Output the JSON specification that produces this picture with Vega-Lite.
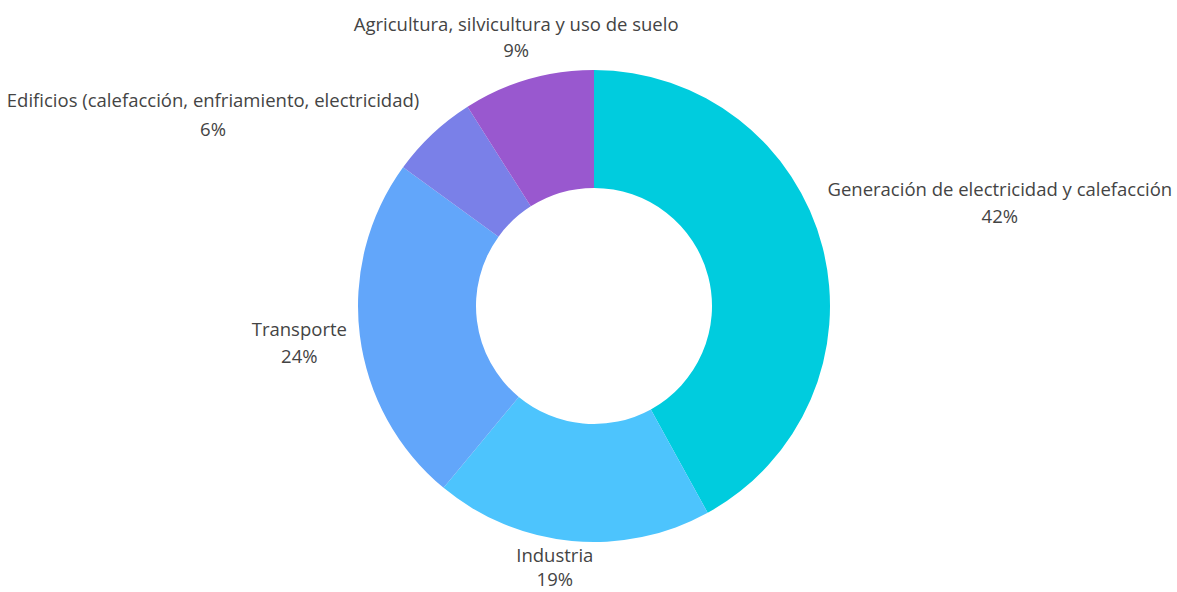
{
  "$schema": "https://vega.github.io/schema/vega-lite/v6.json",
  "width": 1166,
  "height": 572,
  "autosize": {"type": "none"},
  "padding": {"left": 11, "top": 20, "right": 0, "bottom": 0},
  "background": "white",
  "config": {"view": {"stroke": null}, "text": {"font": "Open Sans"}},
  "data": {
    "values": [
      {"sector": "Generación de electricidad y calefacción", "value": 42, "orden": 1},
      {"sector": "Industria", "value": 19, "orden": 2},
      {"sector": "Transporte", "value": 24, "orden": 3},
      {"sector": "Edificios (calefacción, enfriamiento, electricidad)", "value": 6, "orden": 4},
      {"sector": "Agricultura, silvicultura y uso de suelo", "value": 9, "orden": 5}
    ]
  },
  "transform": [
    {"window": [{"op": "sum", "field": "value", "as": "fin"}], "sort": [{"field": "orden"}], "frame": [null, 0]},
    {"calculate": "datum.fin - datum.value / 2", "as": "mid"},
    {"calculate": "datum.sector + '\\n' + datum.value + '%'", "as": "label"}
  ],
  "layer": [
    {
      "mark": {"type": "arc", "outerRadius": 236, "innerRadius": 118},
      "encoding": {
        "theta": {"field": "value", "type": "quantitative", "stack": true, "scale": {"domain": [0, 100]}},
        "color": {
          "field": "sector",
          "type": "nominal",
          "scale": {
            "domain": ["Generación de electricidad y calefacción", "Industria", "Transporte", "Edificios (calefacción, enfriamiento, electricidad)", "Agricultura, silvicultura y uso de suelo"],
            "range": ["#00CCDE", "#4DC4FD", "#62A6FA", "#7A80E8", "#9958CF"]
          },
          "legend": null
        },
        "order": {"field": "orden", "type": "quantitative"}
      }
    },
    {
      "transform": [{"filter": "datum.orden == 1"}],
      "mark": {"type": "text", "radius": 419, "dy": -12, "align": "center", "baseline": "middle", "lineBreak": "\n", "lineHeight": 27, "fontSize": 18.5, "color": "#444444"},
      "encoding": {"theta": {"field": "mid", "type": "quantitative", "stack": null}, "text": {"field": "label"}}
    },
    {
      "transform": [{"filter": "datum.orden == 2"}],
      "mark": {"type": "text", "radius": 268, "dx": -14, "dy": -17, "align": "center", "baseline": "middle", "lineBreak": "\n", "lineHeight": 24, "fontSize": 18.5, "color": "#444444"},
      "encoding": {"theta": {"field": "mid", "type": "quantitative", "stack": null}, "text": {"field": "label"}}
    },
    {
      "transform": [{"filter": "datum.orden == 3"}],
      "mark": {"type": "text", "radius": 297, "dy": -13, "align": "center", "baseline": "middle", "lineBreak": "\n", "lineHeight": 27, "fontSize": 18.5, "color": "#444444"},
      "encoding": {"theta": {"field": "mid", "type": "quantitative", "stack": null}, "text": {"field": "label"}}
    },
    {
      "transform": [{"filter": "datum.orden == 4"}],
      "mark": {"type": "text", "radius": 260, "dx": -203, "dy": -15, "align": "center", "baseline": "middle", "lineBreak": "\n", "lineHeight": 29, "fontSize": 18.5, "color": "#444444"},
      "encoding": {"theta": {"field": "mid", "type": "quantitative", "stack": null}, "text": {"field": "label"}}
    },
    {
      "transform": [{"filter": "datum.orden == 5"}],
      "mark": {"type": "text", "radius": 279, "dy": -13, "align": "center", "baseline": "middle", "lineBreak": "\n", "lineHeight": 26, "fontSize": 18.5, "color": "#444444"},
      "encoding": {"theta": {"field": "mid", "type": "quantitative", "stack": null}, "text": {"field": "label"}}
    }
  ]
}
